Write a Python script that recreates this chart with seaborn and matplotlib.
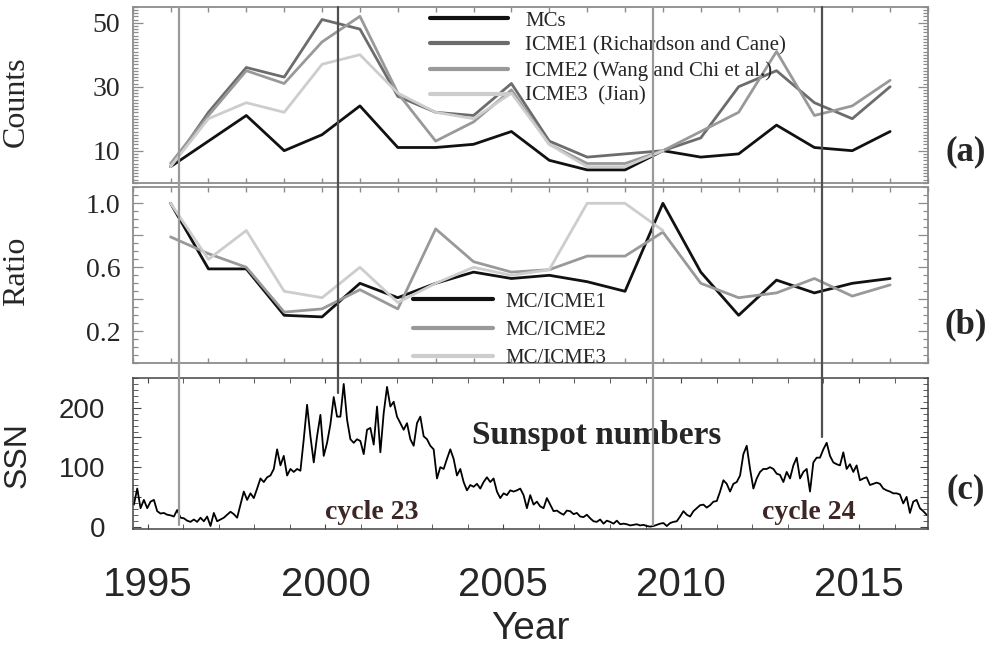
import numpy as np
import pandas as pd
import matplotlib
matplotlib.use("Agg")
import matplotlib.pyplot as plt
import seaborn as sns
from matplotlib.lines import Line2D
from matplotlib import transforms
from matplotlib.ticker import MultipleLocator
from matplotlib import font_manager

# ---------------- data ----------------
years = list(range(1996, 2016))
mcs = [5, 13, 21, 10, 15, 24, 11, 11, 12, 16, 7, 4, 4, 10, 8, 9, 18, 11, 10, 16]
icme1 = [5, 22, 36, 33, 51, 48, 27, 22, 21, 31, 13, 8, 9, 10, 14, 30, 35, 25, 20, 30]
icme2 = [6, 21, 35, 31, 44, 52, 28, 13, 19, 29, 12, 6, 6, 10, 16, 22, 41, 21, 24, 32]
years3 = list(range(1996, 2010))
icme3 = [5, 20, 25, 22, 37, 40, 28, 22, 20, 28, 12, 5, 5, 10]

ratio1 = [1.0, 0.59, 0.59, 0.30, 0.29, 0.50, 0.41, 0.50, 0.57, 0.53,
          0.55, 0.51, 0.45, 1.0, 0.57, 0.30, 0.52, 0.44, 0.50, 0.53]
ratio2 = [0.79, 0.685, 0.60, 0.32, 0.34, 0.46, 0.34, 0.84, 0.635, 0.57,
          0.585, 0.67, 0.67, 0.82, 0.50, 0.41, 0.44, 0.53, 0.42, 0.49]
ratio3 = [1.0, 0.65, 0.83, 0.45, 0.41, 0.60, 0.38, 0.50, 0.60, 0.55,
          0.585, 1.0, 1.0, 0.83]

ssn = [42, 37, 64, 31, 45, 31, 42, 45, 26, 22,
       23, 20, 19, 17, 28, 15, 14, 10, 8, 12,
       8, 15, 9, 17, 1, 23, 9, 12, 15, 20,
       25, 21, 15, 37, 59, 45, 56, 48, 64, 81,
       75, 83, 86, 97, 130, 103, 119, 86, 97, 92,
       97, 94, 147, 205, 152, 108, 152, 188, 119, 141,
       172, 218, 185, 185, 240, 180, 147, 141, 147, 144,
       122, 163, 166, 138, 202, 125, 191, 235, 202, 210,
       185, 174, 163, 174, 147, 136, 174, 185, 152, 147,
       136, 130, 81, 100, 97, 114, 130, 114, 86, 97,
       75, 61, 70, 67, 72, 64, 75, 83, 75, 81,
       59, 48, 56, 53, 61, 59, 61, 64, 53, 31,
       53, 37,
       42, 34, 31, 48, 37, 26, 27, 23, 20, 27,
       26, 21, 23, 17, 16, 20, 14, 9, 8, 12,
       5, 10, 8, 5, 10, 4, 5, 4, 2, 3,
       4, 2, 3, 1, 0, 1, 3, 5, 6, 1,
       6, 8, 9, 17, 26, 20, 17, 26, 31, 36,
       37, 32, 36, 42, 43, 59, 78, 72, 59, 72,
       75, 86, 122, 136, 97, 64, 81, 92, 97, 97,
       100, 97, 89, 87, 75, 92, 81, 103, 116, 81,
       92, 97, 59, 108, 116, 116, 130, 141, 119, 108,
       105, 103, 125, 97, 105, 92, 103, 78, 81, 83,
       70, 72, 74, 72, 64, 61, 59, 56, 56, 54,
       39, 50, 23, 42, 45, 31, 26, 20]
ssn_start, ssn_end = 1994.52, 2016.90
ssn_years = np.linspace(ssn_start, ssn_end, len(ssn))

cycle_marks = [1995.88, 2000.35, 2009.20, 2013.97]   # cycle min / max epochs
mark_colors = ['#9a9a9a', '#505050', '#9a9a9a', '#505050']
mark_bottom = [0.195, 0.397, 0.195, 0.330]           # figure fraction where marks stop

count_labels = ['MCs', 'ICME1 (Richardson and Cane)', 'ICME2 (Wang and Chi et al.)', 'ICME3  (Jian)']
ratio_labels = ['MC/ICME1', 'MC/ICME2', 'MC/ICME3']
c_mc, c1, c2, c3 = '#111111', '#6c6c6c', '#999999', '#cdcdcd'

# ---------------- style ----------------
sns.set_style("white")
names = {f.name for f in font_manager.fontManager.ttflist}
SERIF = 'Liberation Serif'
SANS = 'Liberation Sans'
NARROW = 'Liberation Sans Narrow' if 'Liberation Sans Narrow' in names else 'Liberation Sans'
plt.rcParams['font.family'] = [SERIF, 'DejaVu Serif']

fig = plt.figure(figsize=(9.93, 6.52), dpi=100)
W, H = 993.0, 652.0
def box(l, t, r, b):
    return [l / W, 1 - b / H, (r - l) / W, (b - t) / H]

ax_a = fig.add_axes(box(132.7, 6.7, 928, 182.7))
ax_b = fig.add_axes(box(132.7, 187.3, 928, 363.3))
ax_c = fig.add_axes(box(132.7, 378, 928, 529))

frame_ab = '#8c8c8c'
for ax in (ax_a, ax_b):
    for s in ax.spines.values():
        s.set_color(frame_ab)
        s.set_linewidth(1.3)
    ax.set_xlim(1995, 2016)
    ax.xaxis.set_major_locator(MultipleLocator(1))
    ax.tick_params(axis='x', which='major', direction='in', length=3.5, width=1,
                   color=frame_ab, top=True, bottom=True, labelbottom=False)
    ax.tick_params(axis='y', which='both', direction='in', left=True, right=True,
                   color=frame_ab, width=0.9, labelsize=20, labelfontfamily=SERIF, pad=9)
    ax.tick_params(axis='y', which='major', length=7)
    ax.tick_params(axis='y', which='minor', length=3.5)

# ---- panel (a) ----
sns.lineplot(x=years, y=mcs, ax=ax_a, color=c_mc, lw=2.0, label=count_labels[0])
sns.lineplot(x=years, y=icme1, ax=ax_a, color=c1, lw=2.0, label=count_labels[1])
sns.lineplot(x=years, y=icme2, ax=ax_a, color=c2, lw=2.0, label=count_labels[2])
sns.lineplot(x=years3, y=icme3, ax=ax_a, color=c3, lw=2.0, label=count_labels[3])
ax_a.set_ylim(0, 55)
ax_a.set_yticks([10, 30, 50])
ax_a.yaxis.set_minor_locator(MultipleLocator(1))
ax_a.set_ylabel('Counts', fontsize=23, family=SERIF)
ax_a.yaxis.set_label_coords(-0.128, 0.46)
ax_a.legend(loc='upper left', bbox_to_anchor=(0.374, 0.975), frameon=False,
            prop=dict(family=SERIF, size=15), handlelength=3.75, handletextpad=0.8,
            labelspacing=0.26, borderpad=0, borderaxespad=0)
for l in ax_a.get_legend().get_lines():
    l.set_linewidth(3)

# ---- panel (b) ----
sns.lineplot(x=years, y=ratio1, ax=ax_b, color=c_mc, lw=2.0, label=ratio_labels[0])
sns.lineplot(x=years, y=ratio2, ax=ax_b, color=c2, lw=2.0, label=ratio_labels[1])
sns.lineplot(x=years3, y=ratio3, ax=ax_b, color=c3, lw=2.0, label=ratio_labels[2])
ax_b.set_ylim(0, 1.1)
ax_b.set_yticks([0.2, 0.4, 0.6, 0.8, 1.0])
ax_b.set_yticklabels(['0.2', '', '0.6', '', '1.0'])
ax_b.yaxis.set_minor_locator(MultipleLocator(0.05))
ax_b.set_ylabel('Ratio', fontsize=23, family=SERIF)
ax_b.yaxis.set_label_coords(-0.128, 0.52)
ax_b.legend(loc='upper left', bbox_to_anchor=(0.352, 0.405), frameon=False,
            prop=dict(family=SERIF, size=15), handlelength=3.85, handletextpad=0.6,
            labelspacing=0.42, borderpad=0, borderaxespad=0)
for l in ax_b.get_legend().get_lines():
    l.set_linewidth(3)

# ---- panel (c) ----
sns.lineplot(x=ssn_years, y=ssn, ax=ax_c, color='black', lw=1.3)
ax_c.set_xlim(1994.58, 2016.94)
ax_c.set_ylim(-4, 250)
frame_c = '#444444'
for s in ax_c.spines.values():
    s.set_color(frame_c)
    s.set_linewidth(1.1)
ax_c.set_xticks([1995, 2000, 2005, 2010, 2015])
ax_c.xaxis.set_minor_locator(MultipleLocator(1))
ax_c.set_yticks([0, 50, 100, 150, 200])
ax_c.set_yticklabels(['0', '', '100', '', '200'])
ax_c.yaxis.set_minor_locator(MultipleLocator(10))
ax_c.tick_params(axis='x', which='both', direction='in', top=True, bottom=True,
                 length=3.5, color=frame_c, labelsize=29, labelfontfamily=NARROW, pad=27)
ax_c.tick_params(axis='y', which='both', direction='in', left=True, right=True,
                 color=frame_c, labelsize=20, labelfontfamily=SANS, pad=20)
ax_c.tick_params(axis='y', which='major', length=6)
ax_c.tick_params(axis='y', which='minor', length=3.5)
ax_c.set_ylabel('SSN', fontsize=23, family=SANS)
ax_c.yaxis.set_label_coords(-0.126, 0.49)
ax_c.set_xlabel('Year', fontsize=28, family=NARROW, labelpad=5)

ax_c.text(0.583, 0.62, 'Sunspot numbers', transform=ax_c.transAxes, ha='center', va='center',
          fontsize=24, fontweight='bold', family=SERIF)
ax_c.text(0.300, 0.11, 'cycle 23', transform=ax_c.transAxes, ha='center', va='center',
          fontsize=20, fontweight='bold', family=SERIF, color='#3d2626')
ax_c.text(0.850, 0.11, 'cycle 24', transform=ax_c.transAxes, ha='center', va='center',
          fontsize=20, fontweight='bold', family=SERIF, color='#3d2626')

# panel tags
for txt, yp in (('(a)', 152), ('(b)', 325), ('(c)', 490)):
    fig.text(966 / W, 1 - yp / H, txt, ha='center', va='center', fontsize=25,
             fontweight='bold', family=SERIF)

# cycle epoch markers spanning the panels
trans = transforms.blended_transform_factory(ax_c.transData, fig.transFigure)
top = 1 - 6.7 / H
for xm, col, yb in zip(cycle_marks, mark_colors, mark_bottom):
    fig.add_artist(Line2D([xm, xm], [top, yb], transform=trans, color=col, lw=1.6, zorder=10))

fig.savefig('out.png', dpi=100)
